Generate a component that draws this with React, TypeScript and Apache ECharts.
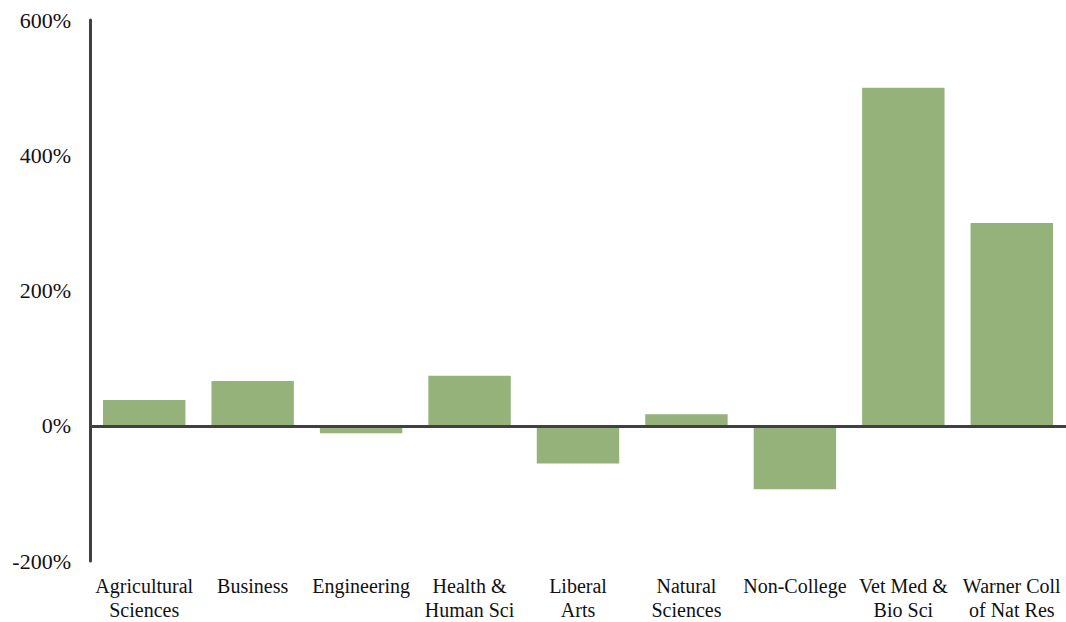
import React, { useEffect, useRef } from "react";
import * as echarts from "echarts";

const categories = [
  "Agricultural\nSciences",
  "Business",
  "Engineering",
  "Health &\nHuman Sci",
  "Liberal\nArts",
  "Natural\nSciences",
  "Non-College",
  "Vet Med &\nBio Sci",
  "Warner Coll\nof Nat Res",
];
const values = [38, 66, -11, 74, -56, 17, -94, 500, 300];
const yMin = -200;
const yMax = 600;
const yInterval = 200;

const FONT = "Liberation Serif, serif";

export default function App() {
  const ref = useRef<HTMLDivElement>(null);
  useEffect(() => {
    document.body.style.margin = "0";
    const chart = echarts.init(ref.current!, null, { renderer: "svg" });
    chart.setOption({
      animation: false,
      backgroundColor: "#ffffff",
      textStyle: { fontFamily: FONT },
      grid: { left: 90, right: -2, top: 20, bottom: 58, containLabel: false },
      xAxis: {
        type: "category",
        data: categories,
        axisLine: { show: false, onZero: false },
        axisTick: { show: false },
        axisLabel: {
          interval: 0,
          margin: 13,
          color: "#111",
          fontFamily: FONT,
          fontSize: 20,
          lineHeight: 24,
          align: "center",
        },
        splitLine: { show: false },
      },
      yAxis: {
        type: "value",
        min: yMin,
        max: yMax,
        interval: yInterval,
        axisLine: { show: true, lineStyle: { color: "#404040", width: 3 } },
        axisTick: { show: false },
        splitLine: { show: false },
        axisLabel: {
          formatter: "{value}%",
          margin: 19,
          color: "#111",
          fontFamily: FONT,
          fontSize: 22,
        },
      },
      series: [
        {
          type: "bar",
          data: values,
          barWidth: "76%",
          itemStyle: { color: "#94B27A" },
          markLine: {
            silent: true,
            symbol: ["none", "none"],
            label: { show: false },
            lineStyle: { color: "#404040", width: 3, type: "solid" },
            data: [{ yAxis: 0 }],
          },
        },
      ],
    });
    return () => chart.dispose();
  }, []);
  return <div ref={ref} style={{ width: 1066, height: 622 }} />;
}
